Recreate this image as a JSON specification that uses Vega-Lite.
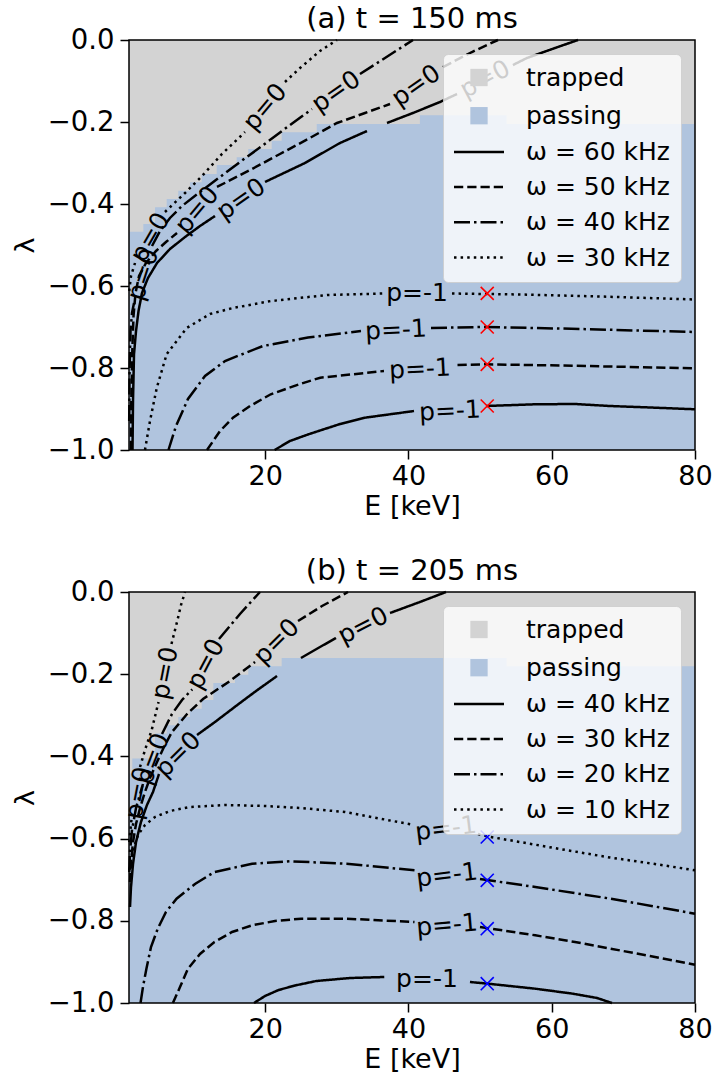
{
  "$schema": "https://vega.github.io/schema/vega-lite/v6.json",
  "background": "white",
  "padding": {"left": 11, "top": 5, "right": 5, "bottom": 5},
  "spacing": 38,
  "resolve": {"scale": {"strokeDash": "independent", "x": "independent", "y": "independent"}, "legend": {"strokeDash": "independent"}},
  "datasets": {
    "bg": [{"E": 1, "E2": 80, "l": -1, "l2": 0}],
    "stepA": [
      {"E": 1, "l": -0.4676}, {"E": 3.0, "l": -0.4488}, {"E": 4.63, "l": -0.408}, {"E": 6.26, "l": -0.3878},
      {"E": 7.88, "l": -0.3676}, {"E": 9.51, "l": -0.347}, {"E": 11.15, "l": -0.3268}, {"E": 13.24, "l": -0.3049},
      {"E": 16.03, "l": -0.2861}, {"E": 17.65, "l": -0.2659}, {"E": 20.92, "l": -0.2456}, {"E": 22.31, "l": -0.2251},
      {"E": 27.2, "l": -0.2049}, {"E": 41.6, "l": -0.1837}, {"E": 53.7, "l": -0.2049}, {"E": 80, "l": -0.2049}
    ],
    "stepB": [
      {"E": 1, "l": -0.4416}, {"E": 1.46, "l": -0.4051}, {"E": 4.63, "l": -0.3443}, {"E": 6.26, "l": -0.3243},
      {"E": 7.88, "l": -0.3041}, {"E": 9.51, "l": -0.2839}, {"E": 11.15, "l": -0.2628}, {"E": 12.77, "l": -0.2214},
      {"E": 15.79, "l": -0.2012}, {"E": 17.65, "l": -0.1808}, {"E": 22.31, "l": -0.1606}, {"E": 53.71, "l": -0.1808},
      {"E": 80, "l": -0.1808}
    ],
    "linesA": [
      {"s": "a1", "w": "ω = 60 kHz", "E": [1.49, 1.56, 1.70, 1.98, 2.33, 2.81, 3.65, 4.91, 6.72, 8.82, 10.91, 13.00], "l": [-1, -0.8805, -0.7659, -0.7098, -0.661, -0.6171, -0.5805, -0.5439, -0.5098, -0.4805, -0.4537, -0.4293]},
      {"s": "a2", "w": "ω = 60 kHz", "E": [19.98, 25.56, 30.45, 34.22], "l": [-0.3463, -0.3, -0.2512, -0.222]},
      {"s": "a3", "w": "ω = 60 kHz", "E": [37.01, 40.64, 44.41, 46.78], "l": [-0.2024, -0.178, -0.1512, -0.1317]},
      {"s": "a4", "w": "ω = 60 kHz", "E": [54.59, 56.55, 60.46, 63.67], "l": [-0.061, -0.0439, -0.0195, 0]},
      {"s": "a5", "w": "ω = 50 kHz", "E": [1.25, 1.32, 1.46, 1.63, 1.91, 2.40, 3.37, 4.77, 6.16, 7.70], "l": [-1, -0.8805, -0.7585, -0.6732, -0.6171, -0.5756, -0.5439, -0.5146, -0.4927, -0.4707]},
      {"s": "a6", "w": "ω = 50 kHz", "E": [13.28, 17.89, 22.07, 25.98, 30.03, 33.94, 37.43], "l": [-0.3585, -0.3171, -0.278, -0.2415, -0.2024, -0.178, -0.1561]},
      {"s": "a7", "w": "ω = 50 kHz", "E": [44.82, 48.87, 52.50], "l": [-0.0659, -0.0293, 0]},
      {"s": "a8", "w": "ω = 40 kHz", "E": [1.03, 1.08, 1.21, 1.42, 1.70], "l": [-0.9293, -0.8073, -0.7098, -0.6659, -0.6415]},
      {"s": "a9", "w": "ω = 40 kHz", "E": [4.21, 5.33, 6.72, 8.40, 10.91, 13.70, 16.49, 19.56, 23.47, 26.54], "l": [-0.5024, -0.4659, -0.4341, -0.4049, -0.3707, -0.3341, -0.2976, -0.2585, -0.2073, -0.1683]},
      {"s": "a10", "w": "ω = 40 kHz", "E": [33.24, 36.73, 40.64], "l": [-0.0829, -0.0439, 0]},
      {"s": "a11", "w": "ω = 30 kHz", "E": [1.03, 1.28, 1.84], "l": [-0.6122, -0.5756, -0.5439]},
      {"s": "a12", "w": "ω = 30 kHz", "E": [6.02, 8.82, 11.19, 13.98, 17.19], "l": [-0.4195, -0.3732, -0.3317, -0.278, -0.2244]},
      {"s": "a13", "w": "ω = 30 kHz", "E": [22.77, 24.87, 27.66, 30.03], "l": [-0.1024, -0.0683, -0.0268, 0]},
      {"s": "a14", "w": "ω = 30 kHz", "E": [3.23, 3.93, 4.87, 6.26, 9.05, 12.31, 15.51, 20.82, 28.64, 36.59], "l": [-1, -0.9293, -0.8488, -0.7659, -0.7024, -0.6683, -0.6537, -0.6366, -0.622, -0.6183]},
      {"s": "a15", "w": "ω = 30 kHz", "E": [46.08, 55.57, 66.74, 80], "l": [-0.6183, -0.6207, -0.6256, -0.6329]},
      {"s": "a16", "w": "ω = 40 kHz", "E": [6.51, 7.56, 9.23, 11.61, 14.40, 19.70, 25.98, 33.38], "l": [-1, -0.9415, -0.8756, -0.8195, -0.7829, -0.7463, -0.7256, -0.7098]},
      {"s": "a17", "w": "ω = 40 kHz", "E": [43.15, 50.55, 61.15, 80], "l": [-0.7024, -0.7, -0.7037, -0.7122]},
      {"s": "a18", "w": "ω = 50 kHz", "E": [11.89, 13.70, 15.51, 17.89, 20.79, 24.87, 27.69, 36.59], "l": [-1, -0.9537, -0.9212, -0.8927, -0.8641, -0.839, -0.8237, -0.8073]},
      {"s": "a19", "w": "ω = 50 kHz", "E": [46.85, 50.83, 61.15, 80], "l": [-0.7927, -0.791, -0.7939, -0.8007]},
      {"s": "a20", "w": "ω = 60 kHz", "E": [21.32, 23.47, 26.05, 30.45, 33.94, 40.78], "l": [-1, -0.978, -0.9617, -0.9366, -0.9212, -0.9049]},
      {"s": "a21", "w": "ω = 60 kHz", "E": [50.83, 57.66, 63.25, 68.13, 73.71, 80], "l": [-0.8927, -0.8885, -0.8878, -0.8927, -0.8963, -0.9007]}
    ],
    "linesB": [
      {"s": "b1", "w": "ω = 40 kHz", "E": [1.14, 1.28, 1.56, 1.98, 2.67, 3.51, 4.35, 5.19], "l": [-0.7664, -0.7178, -0.6618, -0.6083, -0.5596, -0.5182, -0.4866, -0.4428]},
      {"s": "b2", "w": "ω = 40 kHz", "E": [10.49, 13.00, 15.93, 18.73, 21.66], "l": [-0.3479, -0.3163, -0.2774, -0.2409, -0.2044]},
      {"s": "b3", "w": "ω = 40 kHz", "E": [25.00, 27.66, 29.89], "l": [-0.1606, -0.1338, -0.1119]},
      {"s": "b4", "w": "ω = 40 kHz", "E": [37.43, 41.61, 45.24], "l": [-0.0511, -0.0243, 0]},
      {"s": "b5", "w": "ω = 30 kHz", "E": [1.14, 1.28, 1.56, 1.98, 2.54, 3.23, 3.93, 4.91, 5.88, 7.00, 9.10, 11.33, 15.10, 18.59], "l": [-0.7056, -0.6569, -0.6083, -0.5645, -0.5255, -0.4866, -0.4526, -0.4136, -0.3771, -0.3406, -0.2968, -0.2603, -0.2165, -0.1703]},
      {"s": "b6", "w": "ω = 30 kHz", "E": [24.59, 27.94, 31.57], "l": [-0.0706, -0.0341, 0]},
      {"s": "b7", "w": "ω = 20 kHz", "E": [1.04, 1.14, 1.42, 1.98, 2.95], "l": [-0.6813, -0.6326, -0.5791, -0.5255, -0.4672]},
      {"s": "b8", "w": "ω = 20 kHz", "E": [5.61, 7.00, 8.40, 9.83], "l": [-0.3455, -0.2968, -0.2628, -0.2367]},
      {"s": "b9", "w": "ω = 20 kHz", "E": [13.56, 16.49, 19.28], "l": [-0.1144, -0.0535, 0]},
      {"s": "b10", "w": "ω = 10 kHz", "E": [1.04, 1.35], "l": [-0.6083, -0.5523]},
      {"s": "b11", "w": "ω = 10 kHz", "E": [2.54, 3.23, 4.17, 5.12], "l": [-0.4258, -0.3844, -0.3358, -0.2676]},
      {"s": "b12", "w": "ω = 10 kHz", "E": [6.93, 7.70, 8.26, 8.82], "l": [-0.1265, -0.073, -0.0316, 0]},
      {"s": "b13", "w": "ω = 10 kHz", "E": [1.07, 1.56, 2.26, 3.23, 4.63, 6.72, 9.51, 14.40, 19.98, 24.87, 31.15, 40.78], "l": [-0.6764, -0.6277, -0.5912, -0.5669, -0.5474, -0.5328, -0.5231, -0.5182, -0.5207, -0.5255, -0.5353, -0.5669]},
      {"s": "b14", "w": "ω = 10 kHz", "E": [49.71, 51.10, 55.57, 61.15, 68.13, 74.41, 80], "l": [-0.5888, -0.5949, -0.6083, -0.6253, -0.646, -0.6618, -0.6771]},
      {"s": "b15", "w": "ω = 20 kHz", "E": [2.61, 2.95, 3.43, 4.07, 5.01, 6.16, 7.64, 10.21, 12.92, 18.18, 23.46, 31.36, 40.85], "l": [-1, -0.9611, -0.9165, -0.8637, -0.8192, -0.7786, -0.7462, -0.7105, -0.6813, -0.6611, -0.6552, -0.6611, -0.6771]},
      {"s": "b16", "w": "ω = 20 kHz", "E": [49.99, 57.71, 68.24, 80], "l": [-0.6983, -0.7178, -0.7462, -0.7827]},
      {"s": "b17", "w": "ω = 30 kHz", "E": [7.13, 8.12, 9.23, 10.91, 12.92, 15.38, 18.18, 21.38, 25.03, 31.36, 40.85], "l": [-1, -0.9611, -0.9165, -0.8808, -0.8516, -0.8273, -0.811, -0.8005, -0.7949, -0.7949, -0.8029]},
      {"s": "b18", "w": "ω = 30 kHz", "E": [49.99, 57.71, 63.25, 68.24, 73.71, 80], "l": [-0.8151, -0.8353, -0.8516, -0.8679, -0.8856, -0.9068]},
      {"s": "b19", "w": "ω = 40 kHz", "E": [18.45, 19.98, 21.88, 24.17, 27.14, 31.84, 36.63], "l": [-1, -0.983, -0.9684, -0.9574, -0.9465, -0.9392, -0.9367]},
      {"s": "b20", "w": "ω = 40 kHz", "E": [48.59, 51.10, 57.71, 62.97, 66.32, 68.41], "l": [-0.9489, -0.953, -0.9652, -0.9774, -0.9878, -1]}
    ],
    "labA": [
      {"t": "p=0", "E": 16.63, "l": -0.3878, "g": "a34"},
      {"t": "p=0", "E": 50.69, "l": -0.0951, "g": "a28"},
      {"t": "p=0", "E": 41.06, "l": -0.111, "g": "a34"},
      {"t": "p=0", "E": 10.49, "l": -0.4146, "g": "a50"},
      {"t": "p=0", "E": 29.89, "l": -0.1256, "g": "a34"},
      {"t": "p=0", "E": 2.95, "l": -0.572, "g": "a72"},
      {"t": "p=0", "E": 19.98, "l": -0.1634, "g": "a50"},
      {"t": "p=0", "E": 3.93, "l": -0.4817, "g": "a60"},
      {"t": "p=-1", "E": 41.2, "l": -0.617, "g": "a0"},
      {"t": "p=-1", "E": 38.26, "l": -0.7073, "g": "a3"},
      {"t": "p=-1", "E": 41.61, "l": -0.8024, "g": "a3"},
      {"t": "p=-1", "E": 45.8, "l": -0.9049, "g": "a3"}
    ],
    "labB": [
      {"t": "p=0", "E": 33.66, "l": -0.0815, "g": "b27"},
      {"t": "p=0", "E": 7.84, "l": -0.3954, "g": "b45"},
      {"t": "p=0", "E": 21.59, "l": -0.1204, "g": "b45"},
      {"t": "p=0", "E": 11.69, "l": -0.1752, "g": "b62"},
      {"t": "p=0", "E": 4.28, "l": -0.4063, "g": "b69"},
      {"t": "p=0", "E": 6.02, "l": -0.1971, "g": "b79"},
      {"t": "p=0", "E": 2.3, "l": -0.4891, "g": "b79"},
      {"t": "p=-1", "E": 45.24, "l": -0.5754, "g": "b7"},
      {"t": "p=-1", "E": 45.38, "l": -0.6886, "g": "b7"},
      {"t": "p=-1", "E": 45.38, "l": -0.8102, "g": "b5"},
      {"t": "p=-1", "E": 42.59, "l": -0.9428, "g": "b0"}
    ],
    "crossA": [{"E": 51, "l": -0.618}, {"E": 51, "l": -0.7}, {"E": 51, "l": -0.791}, {"E": 51, "l": -0.8927}],
    "crossB": [{"E": 51, "l": -0.5961}, {"E": 51, "l": -0.7015}, {"E": 51, "l": -0.8192}, {"E": 51, "l": -0.953}]
  },
  "vconcat": [
    {
      "width": 566,
      "height": 410,
      "title": {"text": "(a) t = 150 ms"},
      "encoding": {
        "x": {"field": "E", "type": "quantitative", "scale": {"domain": [1, 80], "nice": false, "zero": false}, "axis": {"values": [20, 40, 60, 80], "title": "E [keV]"}},
        "y": {"field": "l", "type": "quantitative", "scale": {"domain": [-1, 0], "nice": false, "zero": false}, "axis": {"values": [0, -0.2, -0.4, -0.6, -0.8, -1], "format": ".1f", "title": "λ"}}
      },
      "layer": [
        {"data": {"name": "bg"}, "mark": {"type": "rect", "color": "#d3d3d3"}, "encoding": {"x2": {"field": "E2"}, "y2": {"field": "l2"}}},
        {"data": {"name": "stepA"}, "mark": {"type": "area", "interpolate": "step-after", "color": "#b0c4de", "opacity": 1}, "encoding": {"y2": {"datum": -1}}},
        {"data": {"name": "linesA"}, "transform": [{"flatten": ["E", "l"]}], "mark": {"type": "line", "color": "black", "strokeWidth": 2.5, "strokeCap": "butt"},
         "encoding": {"detail": {"field": "s"},
           "strokeDash": {"field": "w", "type": "nominal",
             "scale": {"domain": ["trapped", "passing", "ω = 60 kHz", "ω = 50 kHz", "ω = 40 kHz", "ω = 30 kHz"], "range": [[1, 0], [1, 0], [1, 0], [9.25, 4], [16, 4, 2.5, 4], [2.5, 4.1]]},
             "legend": {"title": null, "encode": {
               "symbols": {"update": {
                 "x": {"value": 25}, "y": {"value": 12.5},
                 "shape": {"signal": "indexof(['trapped','passing'], datum.value) >= 0 ? 'square' : 'stroke'"},
                 "size": {"signal": "indexof(['trapped','passing'], datum.value) >= 0 ? 300 : 2500"},
                 "fill": {"signal": "datum.value === 'trapped' ? '#d3d3d3' : (datum.value === 'passing' ? '#b0c4de' : 'transparent')"},
                 "stroke": {"signal": "indexof(['trapped','passing'], datum.value) >= 0 ? 'transparent' : 'black'"},
                 "fillOpacity": {"value": 1}, "opacity": {"value": 1}}},
               "labels": {"update": {"x": {"value": 72}, "y": {"value": 12.5}}}}}}}},
        {"data": {"name": "labA"}, "transform": [{"filter": "datum.g == 'a34'"}], "mark": {"type": "text", "angle": 325, "fontSize": 25, "color": "black", "align": "center", "baseline": "middle"}, "encoding": {"text": {"field": "t"}}},
        {"data": {"name": "labA"}, "transform": [{"filter": "datum.g == 'a28'"}], "mark": {"type": "text", "angle": 332, "fontSize": 25, "color": "black", "align": "center", "baseline": "middle"}, "encoding": {"text": {"field": "t"}}},
        {"data": {"name": "labA"}, "transform": [{"filter": "datum.g == 'a50'"}], "mark": {"type": "text", "angle": 310, "fontSize": 25, "color": "black", "align": "center", "baseline": "middle"}, "encoding": {"text": {"field": "t"}}},
        {"data": {"name": "labA"}, "transform": [{"filter": "datum.g == 'a60'"}], "mark": {"type": "text", "angle": 300, "fontSize": 25, "color": "black", "align": "center", "baseline": "middle"}, "encoding": {"text": {"field": "t"}}},
        {"data": {"name": "labA"}, "transform": [{"filter": "datum.g == 'a72'"}], "mark": {"type": "text", "angle": 288, "fontSize": 25, "color": "black", "align": "center", "baseline": "middle"}, "encoding": {"text": {"field": "t"}}},
        {"data": {"name": "labA"}, "transform": [{"filter": "datum.g == 'a0'"}], "mark": {"type": "text", "angle": 0, "fontSize": 25, "color": "black", "align": "center", "baseline": "middle"}, "encoding": {"text": {"field": "t"}}},
        {"data": {"name": "labA"}, "transform": [{"filter": "datum.g == 'a3'"}], "mark": {"type": "text", "angle": 357, "fontSize": 25, "color": "black", "align": "center", "baseline": "middle"}, "encoding": {"text": {"field": "t"}}},
        {"data": {"name": "crossA"}, "mark": {"type": "point", "shape": "M-1,-1L1,1M1,-1L-1,1", "size": 170, "color": "red", "strokeWidth": 1.6, "filled": false, "opacity": 1}},
        {"data": {"name": "bg"}, "mark": {"type": "rect", "filled": false, "color": "black", "strokeWidth": 1.5}, "encoding": {"x2": {"field": "E2"}, "y2": {"field": "l2"}}}
      ]
    },
    {
      "width": 566,
      "height": 411,
      "title": {"text": "(b) t = 205 ms"},
      "encoding": {
        "x": {"field": "E", "type": "quantitative", "scale": {"domain": [1, 80], "nice": false, "zero": false}, "axis": {"values": [20, 40, 60, 80], "title": "E [keV]"}},
        "y": {"field": "l", "type": "quantitative", "scale": {"domain": [-1, 0], "nice": false, "zero": false}, "axis": {"values": [0, -0.2, -0.4, -0.6, -0.8, -1], "format": ".1f", "title": "λ"}}
      },
      "layer": [
        {"data": {"name": "bg"}, "mark": {"type": "rect", "color": "#d3d3d3"}, "encoding": {"x2": {"field": "E2"}, "y2": {"field": "l2"}}},
        {"data": {"name": "stepB"}, "mark": {"type": "area", "interpolate": "step-after", "color": "#b0c4de", "opacity": 1}, "encoding": {"y2": {"datum": -1}}},
        {"data": {"name": "linesB"}, "transform": [{"flatten": ["E", "l"]}], "mark": {"type": "line", "color": "black", "strokeWidth": 2.5, "strokeCap": "butt"},
         "encoding": {"detail": {"field": "s"},
           "strokeDash": {"field": "w", "type": "nominal",
             "scale": {"domain": ["trapped", "passing", "ω = 40 kHz", "ω = 30 kHz", "ω = 20 kHz", "ω = 10 kHz"], "range": [[1, 0], [1, 0], [1, 0], [9.25, 4], [16, 4, 2.5, 4], [2.5, 4.1]]},
             "legend": {"title": null, "encode": {
               "symbols": {"update": {
                 "x": {"value": 25}, "y": {"value": 12.5},
                 "shape": {"signal": "indexof(['trapped','passing'], datum.value) >= 0 ? 'square' : 'stroke'"},
                 "size": {"signal": "indexof(['trapped','passing'], datum.value) >= 0 ? 300 : 2500"},
                 "fill": {"signal": "datum.value === 'trapped' ? '#d3d3d3' : (datum.value === 'passing' ? '#b0c4de' : 'transparent')"},
                 "stroke": {"signal": "indexof(['trapped','passing'], datum.value) >= 0 ? 'transparent' : 'black'"},
                 "fillOpacity": {"value": 1}, "opacity": {"value": 1}}},
               "labels": {"update": {"x": {"value": 72}, "y": {"value": 12.5}}}}}}}},
        {"data": {"name": "labB"}, "transform": [{"filter": "datum.g == 'b27'"}], "mark": {"type": "text", "angle": 333, "fontSize": 25, "color": "black", "align": "center", "baseline": "middle"}, "encoding": {"text": {"field": "t"}}},
        {"data": {"name": "labB"}, "transform": [{"filter": "datum.g == 'b45'"}], "mark": {"type": "text", "angle": 315, "fontSize": 25, "color": "black", "align": "center", "baseline": "middle"}, "encoding": {"text": {"field": "t"}}},
        {"data": {"name": "labB"}, "transform": [{"filter": "datum.g == 'b62'"}], "mark": {"type": "text", "angle": 298, "fontSize": 25, "color": "black", "align": "center", "baseline": "middle"}, "encoding": {"text": {"field": "t"}}},
        {"data": {"name": "labB"}, "transform": [{"filter": "datum.g == 'b69'"}], "mark": {"type": "text", "angle": 291, "fontSize": 25, "color": "black", "align": "center", "baseline": "middle"}, "encoding": {"text": {"field": "t"}}},
        {"data": {"name": "labB"}, "transform": [{"filter": "datum.g == 'b79'"}], "mark": {"type": "text", "angle": 281, "fontSize": 25, "color": "black", "align": "center", "baseline": "middle"}, "encoding": {"text": {"field": "t"}}},
        {"data": {"name": "labB"}, "transform": [{"filter": "datum.g == 'b7'"}], "mark": {"type": "text", "angle": 353, "fontSize": 25, "color": "black", "align": "center", "baseline": "middle"}, "encoding": {"text": {"field": "t"}}},
        {"data": {"name": "labB"}, "transform": [{"filter": "datum.g == 'b5'"}], "mark": {"type": "text", "angle": 355, "fontSize": 25, "color": "black", "align": "center", "baseline": "middle"}, "encoding": {"text": {"field": "t"}}},
        {"data": {"name": "labB"}, "transform": [{"filter": "datum.g == 'b0'"}], "mark": {"type": "text", "angle": 0, "fontSize": 25, "color": "black", "align": "center", "baseline": "middle"}, "encoding": {"text": {"field": "t"}}},
        {"data": {"name": "crossB"}, "mark": {"type": "point", "shape": "M-1,-1L1,1M1,-1L-1,1", "size": 170, "color": "blue", "strokeWidth": 1.6, "filled": false, "opacity": 1}},
        {"data": {"name": "bg"}, "mark": {"type": "rect", "filled": false, "color": "black", "strokeWidth": 1.5}, "encoding": {"x2": {"field": "E2"}, "y2": {"field": "l2"}}}
      ]
    }
  ],
  "config": {
    "font": "DejaVu Sans",
    "view": {"stroke": null},
    "axis": {"domain": false, "grid": false, "tickColor": "black", "tickWidth": 1.5, "tickSize": 9, "labelColor": "black", "labelFontSize": 27, "labelFont": "DejaVu Sans", "titleColor": "black", "titleFontSize": 27, "titleFontWeight": "normal", "titleFont": "DejaVu Sans", "labelFlush": false, "labelOverlap": false, "labelBound": false},
    "axisX": {"labelPadding": 4, "titlePadding": 4},
    "axisY": {"labelPadding": 6, "titlePadding": 8, "labelFontSize": 27.5},
    "title": {"fontSize": 29, "fontWeight": "normal", "font": "DejaVu Sans", "color": "black", "offset": -8},
    "legend": {"orient": "top-right", "offset": 14, "padding": 11, "labelFontSize": 25, "labelFont": "DejaVu Sans", "labelColor": "black", "labelOffset": 22, "symbolOffset": 0, "rowPadding": 9.2, "symbolType": "stroke", "symbolSize": 2500, "symbolStrokeWidth": 2.5, "symbolStrokeColor": "black", "fillColor": "rgba(255,255,255,0.8)", "strokeColor": "rgba(204,204,204,0.8)", "cornerRadius": 5, "labelLimit": 400}
  }
}
